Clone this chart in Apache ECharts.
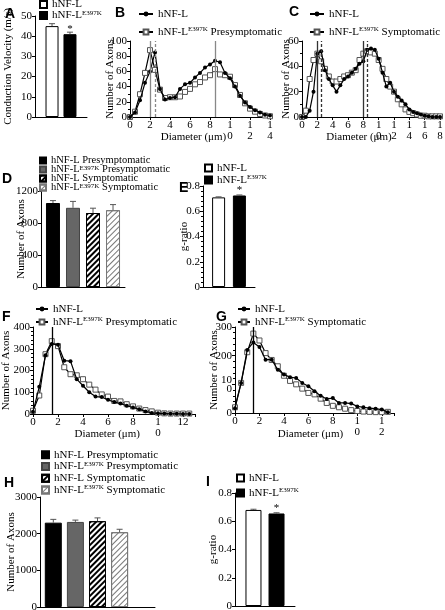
<!DOCTYPE html>
<html><head><meta charset="utf-8">
<script src="https://cdn.jsdelivr.net/npm/echarts@6/dist/echarts.min.js"></script>
<style>html,body{margin:0;padding:0;background:#fff}#c{width:445px;height:610px}</style>
</head><body><div id="c"></div>
<script>
// ================= DATA =================
// A: conduction velocity
const aVelocity = [45, 41];
const aVelocityErr = [1.2, 1.0];
// B: axon diameter distribution, presymptomatic
const bDiameter = [0,0.5,1,1.5,2,2.5,3,3.5,4,4.5,5,5.5,6,6.5,7,7.5,8,8.5,9,9.5,10,10.5,11,11.5,12,12.5,13,13.5,14];
const bWT  = [0,6,22,45,60,85,37,23,25,26,37,43,45,52,58,65,69,74,72,58,51,40,28,19,13,9,6,3,2];
const bMut = [0,7,30,58,88,62,36,25,26,26,27,33,37,43,46,52,55,63,56,55,53,42,29,18,11,7,4,2,1];
const bPeakSolid = [2, 8.5];
const bPeakDashed = [2.5];
const bXTickLabels = ['0','2','4','6','8','1\n0','1\n2','1\n4'];
// C: symptomatic
const cDiameter = [0,0.5,1,1.5,2,2.5,3,3.5,4,4.5,5,5.5,6,6.5,7,7.5,8,8.5,9,9.5,10,10.5,11,11.5,12,12.5,13,13.5,14,14.5,15,15.5,16,16.5,17,17.5,18];
const cWT  = [0,0,5,20,50,52,37,30,25,20,25,30,32,35,38,42,44,53,54,53,46,35,24,27,20,16,13,10,6,4,3,2,1,0.5,0,0,0];
const cMut = [0,5,30,45,50,44,38,32,28,28,30,32,33,35,37,45,50,52,51,50,45,38,30,24,20,14,10,6,4,3,2,1,1,0.5,0.5,0.5,0.5];
const cPeakSolid = [2, 8];
const cPeakDashed = [2.5, 8.5];
const cXTickLabels = ['0','2','4','6','8','1\n0','1\n2','1\n4','1\n6','1\n8'];
// D: number of axons
const dAxons = [1050, 990, 925, 960];
const dAxonsErr = [30, 80, 60, 70];
// E: g-ratio
const eGRatio = [0.71, 0.725];
const eGRatioErr = [0.004, 0.004];
// F: axon diameter distribution presymptomatic
const fDiameter = [0,0.5,1,1.5,2,2.5,3,3.5,4,4.5,5,5.5,6,6.5,7,7.5,8,8.5,9,9.5,10,10.5,11,11.5,12,12.5];
const fWT  = [10,125,270,322,318,245,243,160,130,100,80,78,65,55,48,38,30,22,12,5,3,2,1,1,0,0];
const fMut = [15,85,275,335,312,215,183,178,160,135,112,90,80,60,58,45,35,25,18,12,6,3,2,2,2,2];
const fPeak = [1.5];
const fXTickLabels = ['0','2','4','6','8','1\n0','12'];
// G: symptomatic
const gDiameter = [0,0.5,1,1.5,2,2.5,3,3.5,4,4.5,5,5.5,6,6.5,7,7.5,8,8.5,9,9.5,10,10.5,11,11.5,12,12.5];
const gWT  = [17,105,220,246,230,186,186,151,134,125,122,105,93,76,60,49,52,35,35,33,23,20,17,15,12,3];
const gMut = [20,105,212,277,253,209,185,163,130,112,100,85,70,65,50,35,25,20,15,10,7,5,4,3,3,4];
const gPeak = [1.5];
const gXTickLabels = ['0','2','4','6','8','1\n0','1\n2'];
const gYTickLabels = ['0','10\n0','200','300'];
// H: number of axons
const hAxons = [2300, 2320, 2340, 2040];
const hAxonsErr = [90, 50, 90, 80];
// I: g-ratio
const iGRatio = [0.68, 0.655];
const iGRatioErr = [0.005, 0.005];

// legend texts
const LBL = {
  wt: 'hNF-L', mut: 'hNF-L{sup|E397K}',
  mutPre: 'hNF-L{sup|E397K} Presymptomatic', mutSym: 'hNF-L{sup|E397K} Symptomatic',
  wtPre: 'hNF-L Presymptomatic', wtSym: 'hNF-L Symptomatic'
};

// ================= STYLE HELPERS =================
const SERIF = 'Liberation Serif';
const TXT = {fontFamily: SERIF, fontSize: 11, color: '#000', fontWeight: 'normal'};
const RICH = {sup: {fontFamily: SERIF, fontSize: 7, color: '#000', verticalAlign: 'top', lineHeight: 7}};
const hatchDark = {symbol: 'rect', symbolSize: 1, dashArrayX: [1, 0], dashArrayY: [2, 2], rotation: -Math.PI / 4, color: '#000'};
const hatchLight = {symbol: 'rect', symbolSize: 1, dashArrayX: [1, 0], dashArrayY: [1, 2.5], rotation: -Math.PI / 4, color: '#777'};
const plain = v => String(v);

function merge(a, b) {
  const o = Array.isArray(a) ? a.slice() : Object.assign({}, a);
  for (const k in b) {
    if (b[k] && typeof b[k] === 'object' && !Array.isArray(b[k]) && a[k] && typeof a[k] === 'object') o[k] = merge(a[k], b[k]);
    else o[k] = b[k];
  }
  return o;
}
const grids = [], xAxes = [], yAxes = [], series = [], legends = [], graphics = [];

function yAxis(g, o) {
  return merge({
    gridIndex: g, type: 'value', splitLine: {show: false},
    axisLine: {show: true, lineStyle: {color: '#000', width: 1}},
    axisTick: {show: true, length: 3, lineStyle: {color: '#000'}},
    minorTick: {show: false},
    axisLabel: Object.assign({margin: 3, formatter: plain, showMinLabel: true, showMaxLabel: true, hideOverlap: false}, TXT),
    nameLocation: 'middle', nameRotate: 90, nameMoveOverlap: false, nameTextStyle: Object.assign({}, TXT)
  }, o);
}
function xValAxis(g, o) {
  return merge({
    gridIndex: g, type: 'value', splitLine: {show: false},
    axisLine: {show: true, onZero: false, lineStyle: {color: '#000', width: 1}},
    axisTick: {show: true, length: 3, lineStyle: {color: '#000'}},
    axisLabel: Object.assign({margin: 3, lineHeight: 11, showMinLabel: true, showMaxLabel: true, hideOverlap: false}, TXT),
    nameLocation: 'middle', nameMoveOverlap: false, nameTextStyle: Object.assign({}, TXT)
  }, o);
}
function xCatAxis(g) {
  return {gridIndex: g, type: 'category', data: [''],
    axisLine: {show: true, lineStyle: {color: '#000', width: 1}},
    axisTick: {show: false}, axisLabel: {show: false}, splitLine: {show: false}};
}
function grid(l, t, w, h) { return {left: l, top: t, width: w, height: h, containLabel: false, outerBoundsMode: 'none'}; }

function barSeries(g, name, value, style, bw, gapPct, star) {
  const item = {value: value};
  if (star) item.label = Object.assign({show: true, position: 'top', distance: 0, formatter: '*'}, TXT);
  return {type: 'bar', name: name, xAxisIndex: g, yAxisIndex: g, data: [item],
    barWidth: bw, barGap: gapPct + '%', itemStyle: style, z: 2};
}
function errSeries(g, means, errs, nSlots, bw, gapPct) {
  const step = bw * (1 + gapPct / 100);
  return {type: 'custom', xAxisIndex: g, yAxisIndex: g, silent: true, z: 3,
    data: means.map((m, i) => [0, m, errs[i]]),
    renderItem: function (params, api) {
      const slot = params.dataIndex;
      const b = api.coord([api.value(0), api.value(1)]);
      const t = api.coord([api.value(0), api.value(1) + api.value(2)]);
      const x = b[0] + (slot - (nSlots - 1) / 2) * step;
      return {type: 'group', children: [
        {type: 'line', shape: {x1: x, y1: b[1], x2: x, y2: t[1]}, style: {stroke: '#555', lineWidth: 1}},
        {type: 'line', shape: {x1: x - 3, y1: t[1], x2: x + 3, y2: t[1]}, style: {stroke: '#555', lineWidth: 1}}
      ]};
    }};
}
function lineSeries(g, name, xs, ys, filled) {
  return {type: 'line', name: name, xAxisIndex: g, yAxisIndex: g,
    data: xs.map((x, i) => [x, ys[i]]),
    symbol: filled ? 'circle' : 'rect', symbolSize: filled ? 4 : 5, showAllSymbol: true,
    lineStyle: {color: '#000', width: 1.2},
    itemStyle: filled ? {color: '#000'} : {color: '#fff', borderColor: '#555', borderWidth: 1},
    z: filled ? 4 : 3};
}
function peakLines(solid, dashed, color) {
  return {symbol: 'none', silent: true, label: {show: false},
    data: solid.map(v => ({xAxis: v, lineStyle: {color: color, type: 'solid', width: 1.3}}))
      .concat(dashed.map(v => ({xAxis: v, lineStyle: {color: color, type: [3, 2], width: 1.3}})))};
}
function legend(left, top, names, o) {
  return merge({left: left, top: top, orient: 'vertical', padding: 0, itemGap: 0,
    itemWidth: 7, itemHeight: 7, selectedMode: false, data: names,
    formatter: n => LBL[n.split('_')[1]],
    textStyle: Object.assign({lineHeight: 12, rich: RICH}, TXT)}, o || {});
}
function letter(ch, x, y) {
  return {type: 'text', left: x, top: y, style: {text: ch, font: 'bold 14px Liberation Sans', fill: '#000'}};
}

// ================= PANEL A =================
grids.push(grid(35, 16, 52, 101));
xAxes.push(xCatAxis(0));
yAxes.push(yAxis(0, {min: 0, max: 50, interval: 10, name: 'Conduction Velocity (m/s)', nameGap: 21}));
series.push(barSeries(0, 'A_wt', aVelocity[0], {color: '#fff', borderColor: '#000', borderWidth: 1}, 13, 38, false));
series.push(barSeries(0, 'A_mut', aVelocity[1], {color: '#000', borderColor: '#000', borderWidth: 1}, 13, 38, true));
series.push(errSeries(0, aVelocity, aVelocityErr, 2, 13, 38));
legends.push(legend(39, -1, ['A_wt', 'A_mut'], {icon: 'rect', textStyle: {lineHeight: 11}}));

// ================= PANEL B =================
grids.push(grid(130, 41, 140, 76));
xAxes.push(xValAxis(1, {min: 0, max: 14, interval: 2, name: 'Diameter (μm)', nameGap: 15,
  nameTextStyle: {padding: [0, 13, 0, 0]},
  axisLabel: {formatter: v => bXTickLabels[Math.round(v / 2)] || ''}}));
yAxes.push(yAxis(1, {min: 0, max: 100, interval: 20, name: 'Number of Axons', nameGap: 14,
  minorTick: {show: true, splitNumber: 2, length: 2, lineStyle: {color: '#000'}}}));
const bm = lineSeries(1, 'B_mutPre', bDiameter, bMut, false);
bm.markLine = peakLines(bPeakSolid, bPeakDashed, '#888');
series.push(bm);
series.push(lineSeries(1, 'B_wt', bDiameter, bWT, true));
legends.push(legend(138, 8, ['B_wt', 'B_mutPre'], {itemWidth: 14, itemHeight: 6, itemGap: 6}));

// ================= PANEL C =================
grids.push(grid(302, 41, 138, 76));
xAxes.push(xValAxis(2, {min: 0, max: 18, interval: 2, name: 'Diameter (μm)', nameGap: 15,
  nameTextStyle: {padding: [0, 24, 0, 0]},
  axisLabel: {formatter: v => cXTickLabels[Math.round(v / 2)] || ''}}));
yAxes.push(yAxis(2, {min: 0, max: 60, interval: 20, name: 'Number of Axons', nameGap: 10,
  minorTick: {show: true, splitNumber: 2, length: 2, lineStyle: {color: '#000'}}}));
const cm = lineSeries(2, 'C_mutSym', cDiameter, cMut, false);
cm.markLine = peakLines(cPeakSolid, cPeakDashed, '#333');
series.push(cm);
series.push(lineSeries(2, 'C_wt', cDiameter, cWT, true));
legends.push(legend(309, 8, ['C_wt', 'C_mutSym'], {itemWidth: 14, itemHeight: 6, itemGap: 6}));

// ================= PANEL D =================
grids.push(grid(41, 191, 84, 96));
xAxes.push(xCatAxis(3));
yAxes.push(yAxis(3, {min: 0, max: 1200, interval: 400, name: 'Number of Axons', nameGap: 14.5}));
series.push(barSeries(3, 'D_wtPre', dAxons[0], {color: '#000', borderColor: '#000', borderWidth: 1}, 14, 43, false));
series.push(barSeries(3, 'D_mutPre', dAxons[1], {color: '#666', borderColor: '#444', borderWidth: 1}, 14, 43, false));
series.push(barSeries(3, 'D_wtSym', dAxons[2], {color: '#fff', borderColor: '#000', borderWidth: 1, decal: hatchDark}, 14, 43, false));
series.push(barSeries(3, 'D_mutSym', dAxons[3], {color: '#fff', borderColor: '#777', borderWidth: 1, decal: hatchLight}, 14, 43, false));
series.push(errSeries(3, dAxons, dAxonsErr, 4, 14, 43));
legends.push(legend(39, 155, ['D_wtPre', 'D_mutPre', 'D_wtSym', 'D_mutSym'],
  {icon: 'rect', itemWidth: 6, itemHeight: 6, itemGap: -2, textStyle: {fontSize: 10.5, lineHeight: 9.5}}));

// ================= PANEL E =================
grids.push(grid(203, 186, 52, 101));
xAxes.push(xCatAxis(4));
yAxes.push(yAxis(4, {min: 0, max: 0.8, interval: 0.2, name: 'g-ratio', nameGap: 13.5,
  axisLabel: {formatter: v => v === 0 ? '0' : v.toFixed(1)},
  minorTick: {show: true, splitNumber: 5, length: 2, lineStyle: {color: '#000'}}}));
series.push(barSeries(4, 'E_wt', eGRatio[0], {color: '#fff', borderColor: '#000', borderWidth: 1}, 13, 60, false));
series.push(barSeries(4, 'E_mut', eGRatio[1], {color: '#000', borderColor: '#000', borderWidth: 1}, 13, 60, true));
series.push(errSeries(4, eGRatio, eGRatioErr, 2, 13, 60));
legends.push(legend(204, 162, ['E_wt', 'E_mut'], {icon: 'rect'}));

// ================= PANEL F =================
grids.push(grid(33, 327, 162.5, 87));
xAxes.push(xValAxis(5, {min: 0, max: 13, interval: 2, name: 'Diameter (μm)', nameGap: 15,
  nameTextStyle: {padding: [0, 14, 0, 0]},
  axisLabel: {formatter: v => fXTickLabels[Math.round(v / 2)] || ''}}));
yAxes.push(yAxis(5, {min: 0, max: 400, interval: 100, name: 'Number of Axons', nameGap: 21.5,
  minorTick: {show: true, splitNumber: 5, length: 2, lineStyle: {color: '#000'}}}));
const fm = lineSeries(5, 'F_mutPre', fDiameter, fMut, false);
fm.markLine = peakLines(fPeak, [], '#000');
series.push(fm);
series.push(lineSeries(5, 'F_wt', fDiameter, fWT, true));
legends.push(legend(35, 303, ['F_wt', 'F_mutPre'], {itemWidth: 12, itemHeight: 6, itemGap: 1}));

// ================= PANEL G =================
grids.push(grid(235, 327, 159, 86));
xAxes.push(xValAxis(6, {min: 0, max: 13, interval: 2, name: 'Diameter (μm)', nameGap: 16,
  nameTextStyle: {padding: [0, 8, 0, 0]},
  axisLabel: {formatter: v => gXTickLabels[Math.round(v / 2)] || ''}}));
yAxes.push(yAxis(6, {min: 0, max: 300, interval: 100, name: 'Number of Axons', nameGap: 15.5,
  axisLabel: {formatter: v => gYTickLabels[Math.round(v / 100)], lineHeight: 9},
  minorTick: {show: true, splitNumber: 5, length: 2, lineStyle: {color: '#000'}}}));
const gm = lineSeries(6, 'G_mutSym', gDiameter, gMut, false);
gm.markLine = peakLines(gPeak, [], '#000');
series.push(gm);
series.push(lineSeries(6, 'G_wt', gDiameter, gWT, true));
legends.push(legend(237, 303, ['G_wt', 'G_mutSym'], {itemWidth: 12, itemHeight: 6, itemGap: 1}));

// ================= PANEL H =================
grids.push(grid(40, 497, 115, 110));
xAxes.push(xCatAxis(7));
yAxes.push(yAxis(7, {min: 0, max: 3000, interval: 1000, name: 'Number of Axons', nameGap: 23.5}));
series.push(barSeries(7, 'H_wtPre', hAxons[0], {color: '#000', borderColor: '#000', borderWidth: 1}, 17, 30, false));
series.push(barSeries(7, 'H_mutPre', hAxons[1], {color: '#666', borderColor: '#444', borderWidth: 1}, 17, 30, false));
series.push(barSeries(7, 'H_wtSym', hAxons[2], {color: '#fff', borderColor: '#000', borderWidth: 1, decal: hatchDark}, 17, 30, false));
series.push(barSeries(7, 'H_mutSym', hAxons[3], {color: '#fff', borderColor: '#777', borderWidth: 1, decal: hatchLight}, 17, 30, false));
series.push({type: 'bar', name: 'H_spacer', xAxisIndex: 7, yAxisIndex: 7, data: [null], barWidth: 17, barGap: '30%'});
series.push(errSeries(7, hAxons, hAxonsErr, 5, 17, 30));
legends.push(legend(41, 449, ['H_wtPre', 'H_mutPre', 'H_wtSym', 'H_mutSym'],
  {icon: 'rect', itemWidth: 7, itemHeight: 7, textStyle: {lineHeight: 11.7}}));

// ================= PANEL I =================
grids.push(grid(235, 493, 60, 113));
xAxes.push(xCatAxis(8));
yAxes.push(yAxis(8, {min: 0, max: 0.8, interval: 0.2, name: 'g-ratio', nameGap: 16,
  axisLabel: {formatter: v => v === 0 ? '0' : v.toFixed(1)}}));
series.push(barSeries(8, 'I_wt', iGRatio[0], {color: '#fff', borderColor: '#000', borderWidth: 1}, 16, 44, false));
series.push(barSeries(8, 'I_mut', iGRatio[1], {color: '#000', borderColor: '#000', borderWidth: 1}, 16, 44, true));
series.push(errSeries(8, iGRatio, iGRatioErr, 2, 16, 44));
legends.push(legend(236, 472, ['I_wt', 'I_mut'], {icon: 'rect', itemWidth: 7, itemHeight: 7, itemGap: 3}));

// ================= LETTERS =================
graphics.push(letter('A', 5, 7), letter('B', 115, 6), letter('C', 289, 5), letter('D', 2, 172),
  letter('E', 179, 181), letter('F', 2, 310), letter('G', 216, 310), letter('H', 4, 476), letter('I', 206, 475));

const chart = echarts.init(document.getElementById('c'), null, {renderer: 'canvas', width: 445, height: 610});
chart.setOption({
  animation: false, backgroundColor: '#fff', textStyle: {fontFamily: SERIF},
  grid: grids, xAxis: xAxes, yAxis: yAxes, series: series, legend: legends, graphic: graphics
});
</script></body></html>
